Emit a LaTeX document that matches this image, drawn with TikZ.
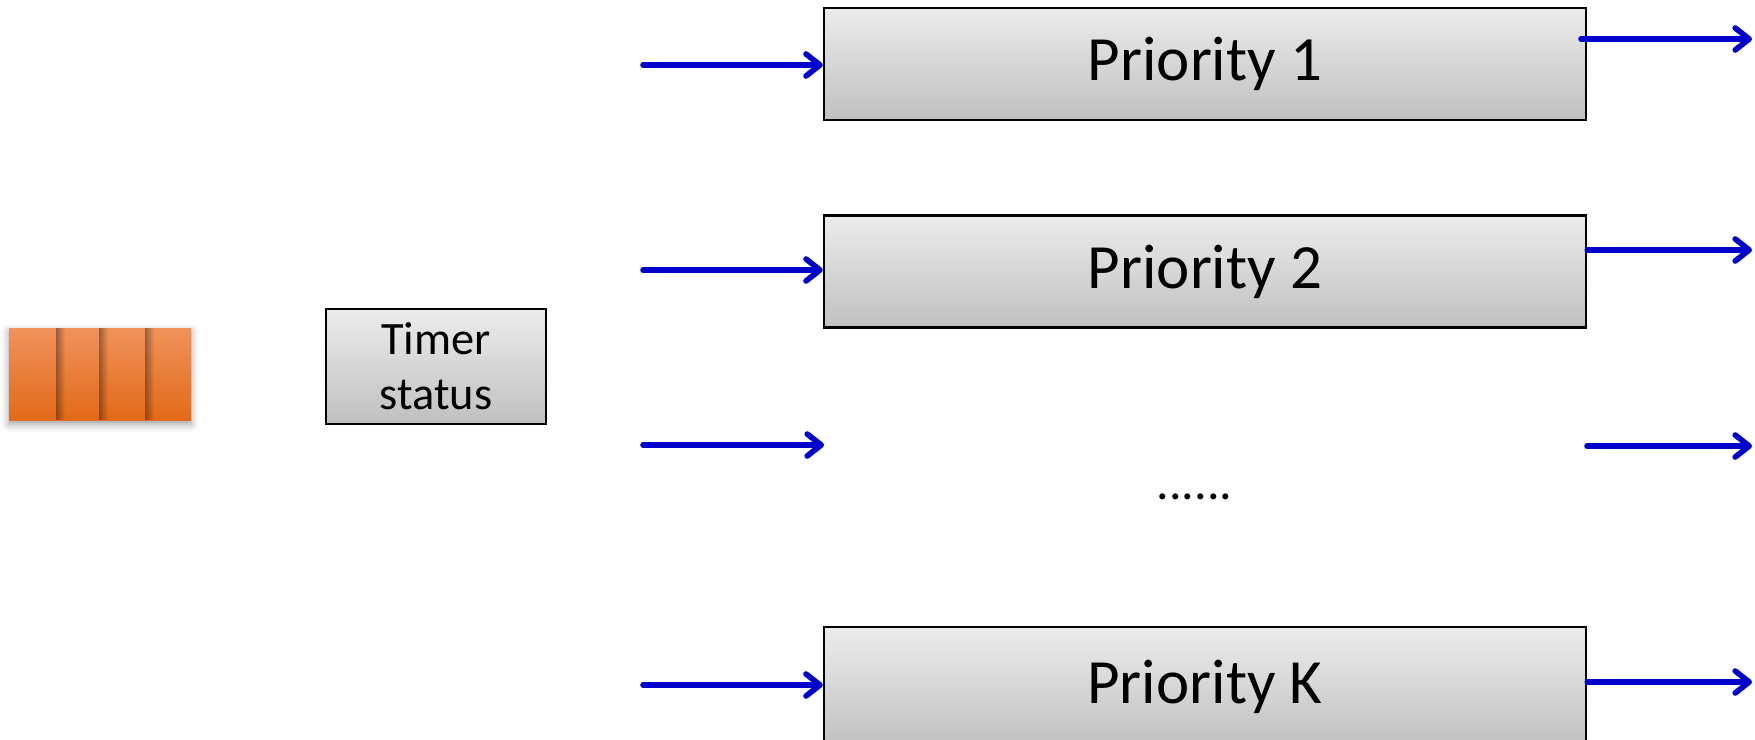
\documentclass[tikz,border=0pt]{standalone}
\usepackage{fontspec}
\setmainfont{Carlito}
\usetikzlibrary{arrows.meta,shadows.blur,fadings}

\definecolor{flowblue}{RGB}{0,0,204}
\definecolor{qtop}{RGB}{240,146,92}
\definecolor{qmid}{RGB}{244,128,40}
\definecolor{qbot}{RGB}{226,106,24}
\definecolor{boxtop}{RGB}{236,236,236}
\definecolor{boxbot}{RGB}{192,192,192}

\tikzset{
  graybox/.style={draw=black, line width=1.2pt, top color=boxtop, bottom color=boxbot,
    inner sep=0pt, align=center},
  prio/.style={graybox, minimum width=381pt, minimum height=56pt,
    font=\fontsize{31.5}{38}\selectfont},
  flow/.style={draw=flowblue, line width=2.8pt, line cap=round,
    -{Straight Barb[length=7pt,width=11pt,line cap=round,line join=round]}},
}

\begin{document}
\begin{tikzpicture}[x=0.5pt,y=-0.5pt]
\useasboundingbox (0,0) rectangle (1755,739);

% message queue
\path[blur shadow={shadow xshift=0pt,shadow yshift=-2pt,shadow blur radius=4pt},
      top color=qtop, middle color=qmid, bottom color=qbot]
  (9,328) rectangle (191,420);
\foreach \xx in {56,99,145}{
  \fill[black, opacity=0.35, path fading=east] (\xx,328) rectangle (\xx+9,420);
}

% timer
\node[graybox, minimum width=110pt, minimum height=57.5pt,
      font=\fontsize{23.2}{27.5}\selectfont] (timer) at (436,366.5) {Timer\\status};

% priority queues
\node[prio] (p1) at (1205,64) {Priority 1};
\node[prio] (p2) at (1205,271.5) {Priority 2};
\node[prio, minimum height=60pt] (pk) at (1205,687) {Priority K};
\node[font=\fontsize{25}{30}\selectfont, anchor=base, inner sep=0pt] (dots) at (1194.5,499) {......};

% incoming flows
\coordinate (in1) at (643,65);
\coordinate (in2) at (643,270);
\coordinate (in3) at (643,445);
\coordinate (in3e) at (824,445);
\coordinate (ink) at (643,685);
\draw[flow] (in1) -- (in1 -| p1.west);
\draw[flow] (in2) -- (in2 -| p2.west);
\draw[flow] (in3) -- (in3e);
\draw[flow] (ink) -- (ink -| pk.west);

% outgoing flows
\coordinate (out1s) at (1581,39);
\coordinate (out1) at (1752,39);
\coordinate (out2) at (1752,250);
\coordinate (out3s) at (1587,446);
\coordinate (out3) at (1752,446);
\coordinate (outk) at (1752,682);
\draw[flow] (out1s) -- (out1);
\draw[flow] (out2 -| p2.east) -- (out2);
\draw[flow] (out3s) -- (out3);
\draw[flow] (outk -| pk.east) -- (outk);
\end{tikzpicture}
\end{document}
